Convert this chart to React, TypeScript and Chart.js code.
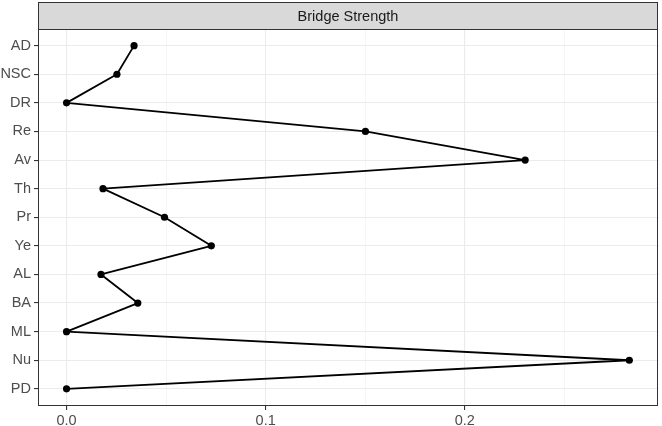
import React, { useEffect, useRef } from "react";
import { Chart, registerables } from "chart.js";

Chart.register(...registerables);

const categories = ["AD", "NSC", "DR", "Re", "Av", "Th", "Pr", "Ye", "AL", "BA", "ML", "Nu", "PD"];
const bridgeStrength = [0.0339, 0.0253, 0, 0.1501, 0.2303, 0.0183, 0.0492, 0.0727, 0.0173, 0.0358, 0, 0.2826, 0];
const xMajorTicks = [0, 0.1, 0.2];
const xMinorTicks = [0.05, 0.15, 0.25];
const xTickLabels = ["0.0", "0.1", "0.2"];
const stripTitle = "Bridge Strength";

const FONT = "'Liberation Sans', Arial, Helvetica, sans-serif";
const FONT_SIZE = 14.5;

const isMajor = (v: number) => xMajorTicks.some((m) => Math.abs(m - v) < 1e-9);

const panelPlugin = {
  id: "panelPlugin",
  beforeDraw(chart: any) {
    const { ctx, width, height } = chart;
    ctx.save();
    ctx.fillStyle = "#ffffff";
    ctx.fillRect(0, 0, width, height);
    ctx.restore();
  },
  afterDraw(chart: any) {
    const { ctx, chartArea } = chart;
    const { left, right, top, bottom } = chartArea;
    const l = Math.round(left);
    const r = Math.round(right);
    const t = Math.round(top);
    const b = Math.round(bottom);
    ctx.save();
    const stripTop = 2;
    ctx.fillStyle = "#D9D9D9";
    ctx.fillRect(l, stripTop, r - l, t - stripTop);
    ctx.strokeStyle = "#333333";
    ctx.lineWidth = 1;
    ctx.strokeRect(l + 0.5, stripTop + 0.5, r - l - 1, t - stripTop);
    ctx.fillStyle = "#1A1A1A";
    ctx.font = `${FONT_SIZE}px ${FONT}`;
    ctx.textAlign = "center";
    ctx.textBaseline = "middle";
    ctx.fillText(stripTitle, (l + r) / 2, (stripTop + t) / 2 + 1);
    ctx.strokeStyle = "#333333";
    ctx.strokeRect(l + 0.5, t + 0.5, r - l - 1, b - t - 1);
    ctx.restore();
  },
};

export default function App() {
  const ref = useRef<HTMLCanvasElement | null>(null);
  useEffect(() => {
    document.body.style.margin = "0";
    const canvas = ref.current!;
    const data = categories.map((c, i) => ({ x: bridgeStrength[i], y: i }));
    const chart = new Chart(canvas, {
      type: "line",
      data: {
        datasets: [
          {
            label: stripTitle,
            data,
            borderColor: "#000000",
            backgroundColor: "#000000",
            borderWidth: 1.8,
            borderJoinStyle: "round",
            borderCapStyle: "round",
            pointRadius: 3.6,
            pointHoverRadius: 3.6,
            pointBackgroundColor: "#000000",
            pointBorderWidth: 0,
            tension: 0,
            clip: false as any,
          },
        ],
      },
      options: {
        animation: false,
        responsive: false,
        events: [],
        layout: { padding: { top: 28.5, right: 0, left: 0, bottom: 0 } },
        plugins: { legend: { display: false }, tooltip: { enabled: false } },
        scales: {
          x: {
            type: "linear",
            min: -0.01433,
            max: 0.2972,
            afterBuildTicks: (scale: any) => {
              scale.ticks = [...xMajorTicks, ...xMinorTicks]
                .sort((a, b) => a - b)
                .map((v) => ({ value: v }));
            },
            afterFit: (scale: any) => {
              scale.height = 20;
            },
            ticks: {
              autoSkip: false,
              maxRotation: 0,
              padding: 2,
              color: "#4D4D4D",
              font: { family: FONT, size: FONT_SIZE },
              callback: (v: any) => {
                const idx = xMajorTicks.findIndex((m) => Math.abs(m - v) < 1e-9);
                return idx >= 0 ? xTickLabels[idx] : "";
              },
            },
            grid: {
              color: (c: any) => (isMajor(c.tick?.value) ? "#EBEBEB" : "#F3F3F3"),
              lineWidth: (c: any) => (isMajor(c.tick?.value) ? 1.1 : 0.8),
              tickColor: (c: any) => (isMajor(c.tick?.value) ? "#333333" : "rgba(0,0,0,0)"),
              tickLength: 4,
              drawTicks: true,
            },
            border: { display: false },
          },
          y: {
            type: "linear",
            reverse: true,
            min: -0.6,
            max: 12.6,
            afterBuildTicks: (scale: any) => {
              scale.ticks = categories.map((_, i) => ({ value: i }));
            },
            afterFit: (scale: any) => {
              scale.width = 38;
            },
            ticks: {
              autoSkip: false,
              padding: 3,
              color: "#4D4D4D",
              font: { family: FONT, size: FONT_SIZE },
              callback: (v: any) => categories[Math.round(v)] ?? "",
            },
            grid: {
              color: "#EBEBEB",
              lineWidth: 1.1,
              tickColor: "#333333",
              tickLength: 4,
            },
            border: { display: false },
          },
        },
      },
      plugins: [panelPlugin],
    });
    return () => chart.destroy();
  }, []);
  return <canvas ref={ref} width={662} height={426} style={{ display: "block" }} />;
}
